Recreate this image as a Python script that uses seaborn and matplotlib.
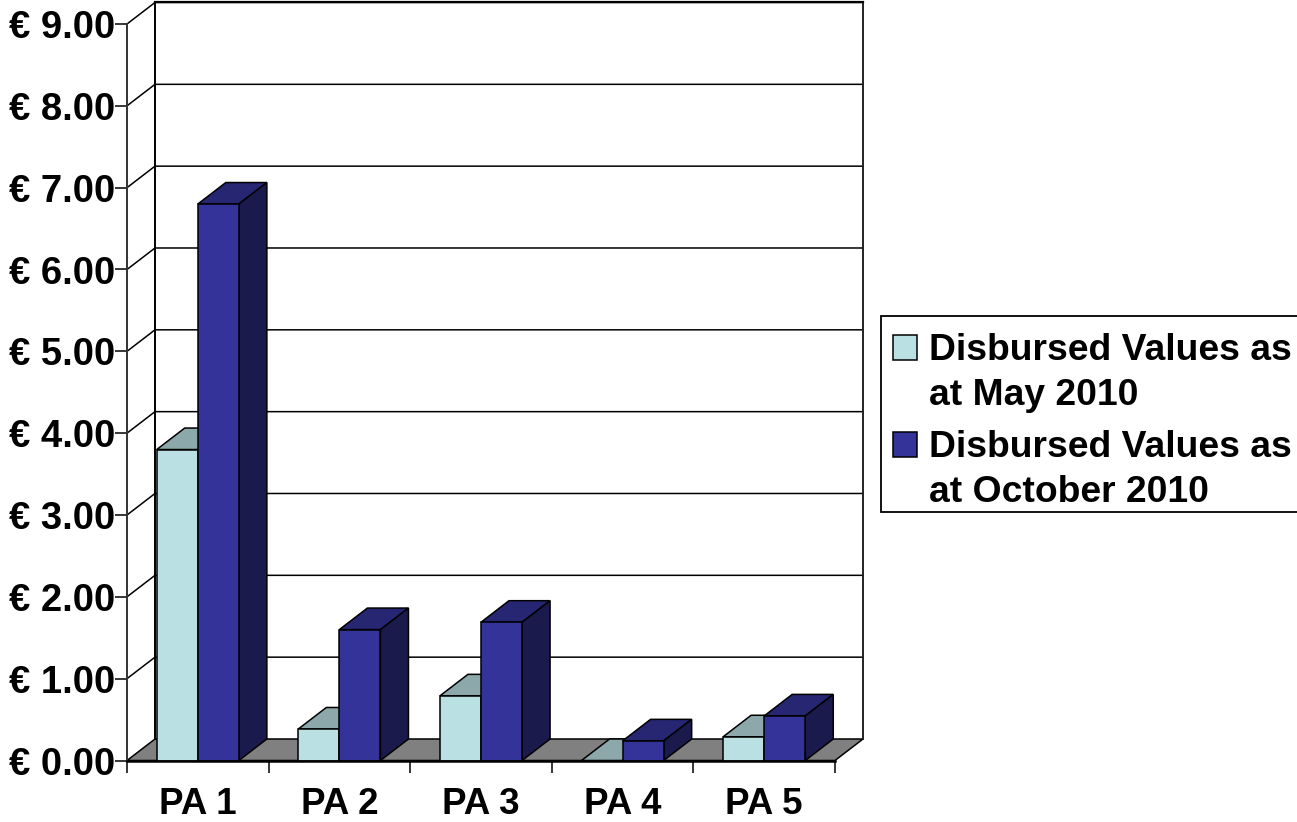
import matplotlib
import matplotlib.pyplot as plt
import seaborn as sns
import pandas as pd
from matplotlib.patches import Polygon, Rectangle

matplotlib.use('Agg')

# values
categories = ['PA 1', 'PA 2', 'PA 3', 'PA 4', 'PA 5']
may_2010 = [3.80, 0.385, 0.79, 0.0, 0.29]
october_2010 = [6.80, 1.60, 1.69, 0.24, 0.545]
series_names = ['Disbursed Values as\nat May 2010', 'Disbursed Values as\nat October 2010']
y_ticks = [0, 1, 2, 3, 4, 5, 6, 7, 8, 9]
y_labels = ['€ 0.00', '€ 1.00', '€ 2.00', '€ 3.00', '€ 4.00', '€ 5.00', '€ 6.00', '€ 7.00', '€ 8.00', '€ 9.00']

front_colors = ['#BBE0E3', '#333399']
top_colors = ['#8CA8AA', '#262673']
side_colors = ['#5E7072', '#1A1A4D']

# depth of the fake 3D box, in data units
depth_x = 28 / 141.6
depth_y = 21.5 / 81.8

plt.rcParams['font.family'] = ['Liberation Sans', 'DejaVu Sans']
plt.rcParams['font.weight'] = 'bold'

data = pd.DataFrame({
    'category': categories * 2,
    'value': may_2010 + october_2010,
    'series': [series_names[0]] * 5 + [series_names[1]] * 5,
})

fig = plt.figure(figsize=(12.97, 8.22), dpi=100)
ax = fig.add_axes([127 / 1297, 1 - 760.5 / 822, 708 / 1297, 736.5 / 822])
ax.patch.set_alpha(0)

sns.barplot(data=data, x='category', y='value', hue='series', palette=front_colors,
            saturation=1, width=0.58, gap=0, edgecolor='black', linewidth=1.1,
            zorder=5, ax=ax)

ax.set_xlim(-0.5, 4.5)
ax.set_ylim(0, 9)
x_left, x_right = -0.5, 4.5

# floor
ax.add_patch(Polygon([(x_left, 0), (x_right, 0), (x_right + depth_x, depth_y), (x_left + depth_x, depth_y)],
                     closed=True, facecolor='#808080', edgecolor='black', linewidth=1.1,
                     clip_on=False, zorder=1))

# back wall and grid
for tick in y_ticks[1:]:
    ax.plot([x_left, x_left + depth_x, x_right + depth_x], [tick, tick + depth_y, tick + depth_y],
            color='black', lw=1.1, clip_on=False, zorder=1)
ax.plot([x_left + depth_x] * 2, [depth_y, 9 + depth_y], color='black', lw=1.4, clip_on=False, zorder=1)
ax.plot([x_right + depth_x] * 2, [depth_y, 9 + depth_y], color='#222222', lw=1.4, clip_on=False, zorder=1)
ax.plot([x_left + depth_x, x_right + depth_x], [9 + depth_y] * 2, color='black', lw=1.6, clip_on=False, zorder=1)

# top and side faces of each bar
for s, container in enumerate(ax.containers):
    for bar in container:
        x0 = bar.get_x()
        x1 = x0 + bar.get_width()
        h = bar.get_height()
        ax.add_patch(Polygon([(x0, h), (x1, h), (x1 + depth_x, h + depth_y), (x0 + depth_x, h + depth_y)],
                             closed=True, facecolor=top_colors[s], edgecolor='black', linewidth=1.1,
                             clip_on=False, zorder=2 + s))
        ax.add_patch(Polygon([(x1, 0), (x1, h), (x1 + depth_x, h + depth_y), (x1 + depth_x, depth_y)],
                             closed=True, facecolor=side_colors[s], edgecolor='black', linewidth=1.1,
                             clip_on=False, zorder=2 + s))

sns.despine(ax=ax)
ax.spines['left'].set_linewidth(1.4)
ax.spines['left'].set_color('#333333')
ax.spines['bottom'].set_linewidth(1.8)
ax.spines['bottom'].set_color('black')
ax.spines['bottom'].set_zorder(6)

ax.set_yticks(y_ticks)
ax.set_yticklabels(y_labels, fontsize=27.5, fontweight='bold')
ax.tick_params(axis='y', length=8.6, width=1.1, pad=0, left=True)
ax.set_xticks(range(5))
ax.set_xticklabels(categories, fontsize=26.5, fontweight='bold')
ax.set_xticks([-0.5, 0.5, 1.5, 2.5, 3.5, 4.5], minor=True)
ax.tick_params(axis='x', which='major', length=0, pad=19, bottom=False)
ax.tick_params(axis='x', which='minor', length=8.6, width=1.1, bottom=True)
ax.set_xlabel('')
ax.set_ylabel('')

# legend frame drawn apart, it runs off the right edge of the picture
handles = ax.get_legend().legend_handles
leg = ax.legend(handles=handles, labels=series_names, loc='upper left',
                bbox_to_anchor=(881 / 1297, 1 - 321 / 822), bbox_transform=fig.transFigure,
                borderaxespad=0, frameon=False,
                fontsize=26.8, handlelength=0.66, handleheight=0.66, handletextpad=0.3,
                labelspacing=0.46, borderpad=0.32)
for text in leg.get_texts():
    text.set_linespacing(1.37)
    text.set_fontweight('bold')
for handle in leg.legend_handles:
    handle.set_edgecolor('black')
    handle.set_linewidth(1.1)
    handle.set_y(handle.get_y() + 18.5)

fig.add_artist(Rectangle((881 / 1297, 1 - 512 / 822), 420 / 1297, 196 / 822, transform=fig.transFigure,
                         facecolor='white', edgecolor='black', linewidth=1.3, zorder=-1))

fig.savefig('out.png', dpi=100)
